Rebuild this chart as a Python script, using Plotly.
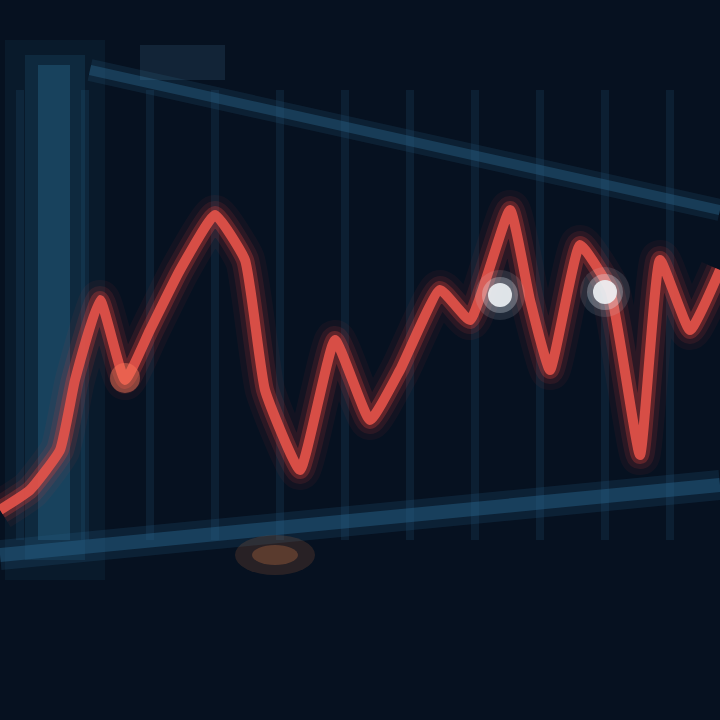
import plotly.graph_objects as go

# Data (x position along time axis, value)
days = [0, 30, 60, 75, 100, 125, 150, 180, 215, 245, 265, 300, 335, 370, 400,
        440, 470, 510, 530, 550, 580, 610, 640, 660, 690, 720]
values = [50, 70, 110, 180, 260, 180, 230, 290, 345, 300, 170, 90, 220, 140, 190,
          270, 240, 350, 260, 190, 315, 270, 105, 300, 230, 290]
highlight_days = [500, 605]
highlight_values = [265, 268]
glow_days = [125]
glow_values = [182]
grid_days = [20, 85, 150, 215, 280, 345, 410, 475, 540, 605, 670]

fig = go.Figure()

# glow layers of the red line
for w, op in [(40, 0.06), (28, 0.12), (18, 0.3)]:
    fig.add_trace(go.Scatter(x=days, y=values, mode="lines",
                             line=dict(color="#d8403a", width=w, shape="spline", smoothing=0.4),
                             opacity=op, hoverinfo="skip", showlegend=False))
fig.add_trace(go.Scatter(x=days, y=values, mode="lines",
                         line=dict(color="#e4534a", width=10, shape="spline", smoothing=0.4),
                         opacity=0.9, showlegend=False))
# warm glow spot on the line
fig.add_trace(go.Scatter(x=glow_days, y=glow_values, mode="markers",
                         marker=dict(color="#ff7a5a", size=30, line=dict(width=0)),
                         opacity=0.45, hoverinfo="skip", showlegend=False))
# glowing white points
for s, op in [(50, 0.12), (36, 0.3)]:
    fig.add_trace(go.Scatter(x=highlight_days, y=highlight_values, mode="markers",
                             marker=dict(color="#dfe8f0", size=s, line=dict(width=0)),
                             opacity=op, hoverinfo="skip", showlegend=False))
fig.add_trace(go.Scatter(x=highlight_days, y=highlight_values, mode="markers",
                         marker=dict(color="#eef2f5", size=24),
                         opacity=0.9, showlegend=False))

shapes = []
# vertical faint grid lines
for g in grid_days:
    shapes.append(dict(type="line", xref="x", yref="y", x0=g, x1=g, y0=20, y1=470,
                       line=dict(color="rgba(35,80,115,0.22)", width=8), layer="below"))
# left axis glow band
shapes.append(dict(type="rect", xref="x", yref="y", x0=5, x1=105, y0=-20, y1=520,
                   fillcolor="rgba(40,110,150,0.10)", line=dict(width=0), layer="below"))
shapes.append(dict(type="rect", xref="x", yref="y", x0=25, x1=85, y0=0, y1=505,
                   fillcolor="rgba(40,110,150,0.18)", line=dict(width=0), layer="below"))
shapes.append(dict(type="rect", xref="x", yref="y", x0=38, x1=70, y0=20, y1=495,
                   fillcolor="rgba(50,125,165,0.30)", line=dict(width=0), layer="below"))
# perspective border lines
for w, c in [(22, "rgba(40,95,130,0.2)"), (10, "rgba(40,95,130,0.45)")]:
    shapes.append(dict(type="line", xref="x", yref="y", x0=90, y0=490, x1=720, y1=350,
                       line=dict(color=c, width=w), layer="below"))
for w, c in [(30, "rgba(40,100,140,0.2)"), (14, "rgba(40,100,140,0.45)")]:
    shapes.append(dict(type="line", xref="x", yref="y", x0=0, y0=5, x1=720, y1=75,
                       line=dict(color=c, width=w), layer="below"))
# orange reflection at bottom
shapes.append(dict(type="circle", xref="x", yref="y", x0=235, x1=315, y0=-15, y1=25,
                   fillcolor="rgba(200,110,60,0.18)", line=dict(width=0), layer="below"))
shapes.append(dict(type="circle", xref="x", yref="y", x0=252, x1=298, y0=-5, y1=15,
                   fillcolor="rgba(210,120,70,0.3)", line=dict(width=0), layer="below"))
# faint title blob
shapes.append(dict(type="rect", xref="x", yref="y", x0=140, x1=225, y0=480, y1=515,
                   fillcolor="rgba(80,130,160,0.18)", line=dict(width=0), layer="below"))

fig.update_layout(
    width=720, height=720,
    margin=dict(l=0, r=0, t=0, b=0),
    paper_bgcolor="#061120",
    plot_bgcolor="#061120",
    shapes=shapes,
    xaxis=dict(range=[0, 720], showgrid=False, zeroline=False, showticklabels=False),
    yaxis=dict(range=[-160, 560], showgrid=False, zeroline=False, showticklabels=False),
)

fig.write_html("out.html", config={"displayModeBar": False},
               post_script="document.body.style.margin='0';document.body.style.background='#061120';")
